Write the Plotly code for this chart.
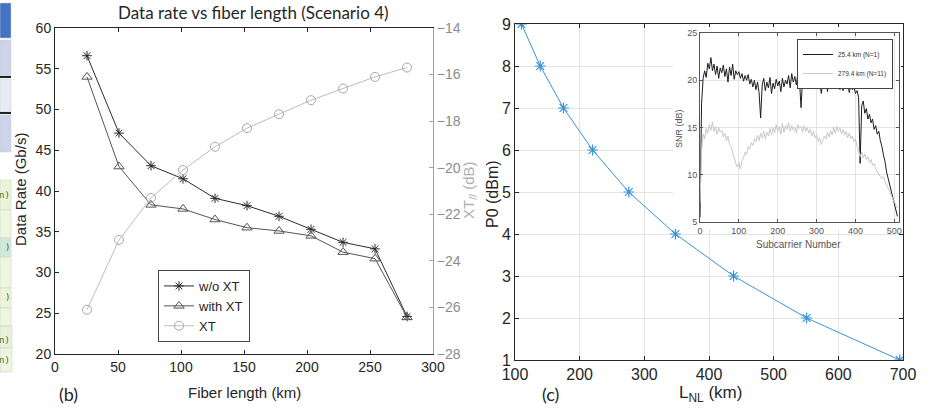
import plotly.graph_objects as go

# panel (b): data rate vs fiber length (scenario 4)
fiber_km = [25.4, 50.8, 76.2, 101.6, 127.0, 152.4, 177.8, 203.2, 228.6, 254.0, 279.4]
rate_wo_xt = [56.6, 47.1, 43.1, 41.5, 39.1, 38.2, 36.9, 35.3, 33.7, 32.9, 24.6]
rate_with_xt = [54.0, 43.0, 38.3, 37.8, 36.5, 35.5, 35.1, 34.5, 32.5, 31.7, 24.5]
xt_db = [-26.1, -23.1, -21.3, -20.1, -19.1, -18.3, -17.7, -17.1, -16.6, -16.1, -15.7]

# panel (c): launch power vs nonlinear length
l_nl_km = [110, 139, 175, 220, 276, 348, 438, 551, 695]
p0_dbm = [9, 8, 7, 6, 5, 4, 3, 2, 1]

# inset: SNR per subcarrier (every 4th subcarrier)
subcarrier = list(range(0, 512, 4))
snr_25km = [
    5.5, 17.5, 20.2, 21.0, 20.3, 21.8, 21.2, 22.4, 21.0, 21.7, 20.6, 21.5, 20.2, 21.3, 20.8, 21.6,
    20.4, 21.2, 19.8, 21.4, 20.5, 21.7, 20.1, 21.0, 20.6, 20.9, 20.2, 20.7, 19.9, 20.5, 20.0, 20.6,
    19.6, 20.1, 19.3, 20.0, 19.0, 19.8, 18.7, 16.0, 19.5, 20.2, 18.9, 19.8, 19.2, 20.3, 18.6, 19.7,
    19.1, 20.1, 19.4, 19.9, 18.8, 20.2, 19.3, 20.0, 19.6, 20.5, 19.2, 20.7, 19.8, 20.4, 19.5, 20.8,
    19.9, 17.1, 20.3, 20.9, 19.7, 20.6, 20.1, 20.8, 19.4, 20.5, 19.8, 20.2, 19.1, 20.0, 18.6, 19.7,
    19.3, 20.4, 18.8, 20.1, 19.5, 20.6, 19.2, 21.3, 19.6, 20.3, 19.0, 19.9, 18.9, 19.6, 19.1, 19.8,
    18.7, 19.5, 19.0, 19.3, 18.6, 18.9, 18.2, 11.2, 17.3, 17.8, 16.5, 17.0, 15.9, 16.4, 15.5, 15.9,
    14.8, 15.2, 14.3, 14.6, 13.6, 13.0, 12.1, 11.4, 10.3, 9.6, 8.9, 8.1, 7.4, 6.9, 6.2, 5.6,
]
snr_279km = [
    7.0, 12.5, 14.3, 13.8, 14.9, 14.4, 15.3, 14.7, 15.6, 14.6, 15.1, 14.3, 15.0, 14.5, 14.7, 14.0,
    14.4, 13.6, 14.1, 13.2, 13.0, 12.3, 11.9, 11.2, 10.8, 11.3, 10.6, 11.5, 11.8, 12.4, 12.1, 13.0,
    12.7, 13.4, 13.1, 13.8, 13.5, 14.2, 13.6, 14.4, 13.9, 14.6, 13.8, 14.5, 14.1, 14.9, 14.2, 15.0,
    14.4, 15.3, 14.6, 15.1, 14.3, 15.4, 14.5, 15.2, 14.8, 15.5, 14.6, 15.2, 14.7, 15.0, 14.4, 15.3,
    14.9, 15.1, 14.5, 15.2, 14.6, 15.0, 14.4, 14.8, 14.1, 14.6, 13.9, 14.2, 13.5, 13.9, 13.2, 13.6,
    14.1, 13.8, 14.5, 14.0, 14.7, 14.2, 15.0, 14.4, 15.1, 14.6, 15.0, 14.3, 14.8, 14.2, 14.6, 13.9,
    14.4, 13.8, 14.1, 13.5, 13.8, 13.0, 12.6, 11.9, 12.4, 11.8, 12.2, 11.6, 11.9, 11.3, 11.6, 11.0,
    11.2, 10.6, 10.3, 10.0, 9.8, 9.6, 9.8, 9.3, 9.0, 8.6, 8.2, 7.9, 7.5, 7.1, 6.8, 6.5,
]

ARIAL = "Liberation Sans, Arial, sans-serif"
CALIBRI = "Lato, Open Sans, sans-serif"
W, H = 938, 412


def px_x(p):
    return p / W


def px_y(p):
    return 1 - p / H


fig = go.Figure()

# --- panel (b)
fig.add_trace(go.Scatter(
    x=fiber_km, y=rate_wo_xt, name='w/o XT', mode='lines+markers',
    line=dict(color='#2b2b2b', width=1),
    marker=dict(symbol='asterisk-open', size=8, line=dict(width=1, color='#2b2b2b')),
    xaxis='x', yaxis='y', legend='legend'))
fig.add_trace(go.Scatter(
    x=fiber_km, y=rate_with_xt, name='with XT', mode='lines+markers',
    line=dict(color='#555555', width=1),
    marker=dict(symbol='triangle-up-open', size=9, line=dict(width=1, color='#555555')),
    xaxis='x', yaxis='y', legend='legend'))
fig.add_trace(go.Scatter(
    x=fiber_km, y=xt_db, name='XT', mode='lines+markers',
    line=dict(color='#bdbdbd', width=1),
    marker=dict(symbol='circle-open', size=9, color='#a8a8a8', line=dict(width=1, color='#a8a8a8')),
    xaxis='x', yaxis='y2', legend='legend'))

# --- panel (c)
fig.add_trace(go.Scatter(
    x=l_nl_km, y=p0_dbm, mode='lines+markers', showlegend=False,
    line=dict(color='#3a93d6', width=1),
    marker=dict(symbol='asterisk-open', size=9, line=dict(width=1.2, color='#3a93d6')),
    xaxis='x3', yaxis='y3'))

# empty subplot acting as white backing behind the inset
fig.add_trace(go.Scatter(x=[None], y=[None], showlegend=False, hoverinfo='skip',
                         xaxis='x4', yaxis='y4'))

# --- inset
fig.add_trace(go.Scatter(
    x=subcarrier, y=snr_25km, name='25.4 km (N=1)', mode='lines',
    line=dict(color='#1e1e1e', width=1), xaxis='x5', yaxis='y5', legend='legend2'))
fig.add_trace(go.Scatter(
    x=subcarrier, y=snr_279km, name='279.4 km (N=11)', mode='lines',
    line=dict(color='#c8c8c8', width=1), xaxis='x5', yaxis='y5', legend='legend2'))

tick_b = dict(family=ARIAL, size=14, color='#262626')
tick_c = dict(family=ARIAL, size=16, color='#262626')
tick_i = dict(family=ARIAL, size=9, color='#555555')
base = dict(automargin=False, zeroline=False, showline=True, ticks='inside')

fig.update_layout(
    template='none',
    width=W, height=H, autosize=False,
    margin=dict(l=0, r=0, t=0, b=0, pad=0),
    paper_bgcolor='white', plot_bgcolor='white',
    xaxis=dict(base, domain=[px_x(55), px_x(433)], anchor='y', range=[0, 300], dtick=50,
               ticklen=4, linecolor='#262626', tickcolor='#262626', mirror='ticks',
               showgrid=False, tickfont=tick_b),
    yaxis=dict(base, domain=[px_y(354), px_y(28)], anchor='x', range=[20, 60], dtick=5,
               ticklen=4, linecolor='#262626', tickcolor='#262626',
               showgrid=False, tickfont=tick_b),
    yaxis2=dict(base, overlaying='y', side='right', anchor='x', range=[-28, -14], dtick=2,
                ticklen=4, linecolor='#a0a0a0', tickcolor='#a0a0a0',
                showgrid=False, tickfont=dict(family=ARIAL, size=14, color='#8c8c8c')),
    xaxis3=dict(base, domain=[px_x(515), px_x(903)], anchor='y3', range=[100, 700], dtick=100,
                ticklen=4, linecolor='#262626', tickcolor='#262626', mirror='ticks',
                showgrid=True, gridcolor='#e4e4e4', tickfont=tick_c),
    yaxis3=dict(base, domain=[px_y(360), px_y(24)], anchor='x3', range=[1, 9], dtick=1,
                ticklen=4, linecolor='#262626', tickcolor='#262626', mirror='ticks',
                showgrid=True, gridcolor='#e4e4e4', tickfont=tick_c),
    xaxis4=dict(domain=[px_x(673), px_x(901)], anchor='y4', visible=False, range=[0, 1]),
    yaxis4=dict(domain=[px_y(229), px_y(27)], anchor='x4', visible=False, range=[0, 1]),
    xaxis5=dict(base, domain=[px_x(700), px_x(899)], anchor='y5', range=[0, 512],
                tickvals=[0, 100, 200, 300, 400, 500],
                ticklen=3, linecolor='#555555', tickcolor='#555555', mirror='ticks',
                showgrid=True, gridcolor='#e4e4e4', tickfont=tick_i),
    yaxis5=dict(base, domain=[px_y(222), px_y(33)], anchor='x5', range=[5, 25], dtick=5,
                ticklen=3, linecolor='#555555', tickcolor='#555555', mirror='ticks',
                showgrid=True, gridcolor='#e4e4e4', tickfont=tick_i),
    legend=dict(x=px_x(158), y=px_y(270), xanchor='left', yanchor='top',
                bgcolor='white', bordercolor='#444444', borderwidth=1,
                font=dict(family=ARIAL, size=13, color='#262626'),
                tracegroupgap=0, itemwidth=30),
    legend2=dict(x=px_x(893), y=px_y(39), xanchor='right', yanchor='top',
                 bgcolor='white', bordercolor='#444444', borderwidth=1,
                 font=dict(family=ARIAL, size=6.5, color='#333333'),
                 tracegroupgap=0, itemwidth=30),
)

# cropped table fragment on the left edge
table_bands = [(3, 38, '#4472c4'), (40, 77, '#cdd4ea'), (79, 112, '#e8ebf5'), (115, 152, '#cdd4ea'),
               (180, 210, '#ebf3d8'), (210, 238, '#eef6de'), (238, 257, '#cfe9dd'),
               (257, 288, '#eef6de'), (288, 308, '#ebf3d8'), (308, 326, '#eef6de'),
               (326, 348, '#e9f1dc'), (348, 372, '#edf5e0')]
for y0, y1, col in table_bands:
    fig.add_shape(type='rect', xref='paper', yref='paper',
                  x0=0, x1=px_x(11 if y1 <= 326 else 12), y0=px_y(y1), y1=px_y(y0),
                  fillcolor=col, line=dict(width=0.5, color='#c8d0c0'), layer='below')
for yl in [77, 113]:
    fig.add_shape(type='line', xref='paper', yref='paper', x0=0, x1=px_x(11),
                  y0=px_y(yl), y1=px_y(yl), line=dict(color='#222222', width=2))
for yt, t in [(195, 'n)'), (247, ')'), (297, ')'), (340, 'n)'), (360, 'n)')]:
    fig.add_annotation(x=px_x(12), y=px_y(yt), xref='paper', yref='paper', text=t,
                       showarrow=False, xanchor='right', yanchor='middle',
                       font=dict(family='DejaVu Sans Mono', size=9, color='#4f6b1c'))

# titles and labels
labels = [
    dict(x=px_x(253), y=px_y(13), text='Data rate vs fiber length (Scenario 4)',
         font=dict(family=CALIBRI, size=17, color='#262626')),
    dict(x=px_x(20), y=px_y(190), text='Data Rate (Gb/s)', textangle=-90,
         font=dict(family=ARIAL, size=15, color='#262626')),
    dict(x=px_x(469), y=px_y(190), text='XT<sub>//</sub> (dB)', textangle=-90,
         font=dict(family=ARIAL, size=15, color='#b0b0b0')),
    dict(x=px_x(245), y=px_y(392), text='Fiber length (km)',
         font=dict(family=ARIAL, size=15, color='#262626')),
    dict(x=px_x(68), y=px_y(394), text='(b)',
         font=dict(family=CALIBRI, size=18, color='#262626')),
    dict(x=px_x(492), y=px_y(194), text='P0 (dBm)', textangle=-90,
         font=dict(family=ARIAL, size=16, color='#262626')),
    dict(x=px_x(710), y=px_y(394), text='L<sub>NL</sub> (km)',
         font=dict(family=ARIAL, size=17, color='#262626')),
    dict(x=px_x(550), y=px_y(394), text='(c)',
         font=dict(family=CALIBRI, size=18, color='#262626')),
    dict(x=px_x(679), y=px_y(129), text='SNR (dB)', textangle=-90,
         font=dict(family=ARIAL, size=9, color='#555555')),
    dict(x=px_x(798), y=px_y(245), text='Subcarrier Number',
         font=dict(family=ARIAL, size=10, color='#555555')),
]
for a in labels:
    fig.add_annotation(xref='paper', yref='paper', showarrow=False,
                       xanchor='center', yanchor='middle', **a)

# drop the default page margin so the figure sits at the window's corner
fig.write_html("out.html", config={'displayModeBar': False},
               post_script="document.body.style.margin = '0px';")
